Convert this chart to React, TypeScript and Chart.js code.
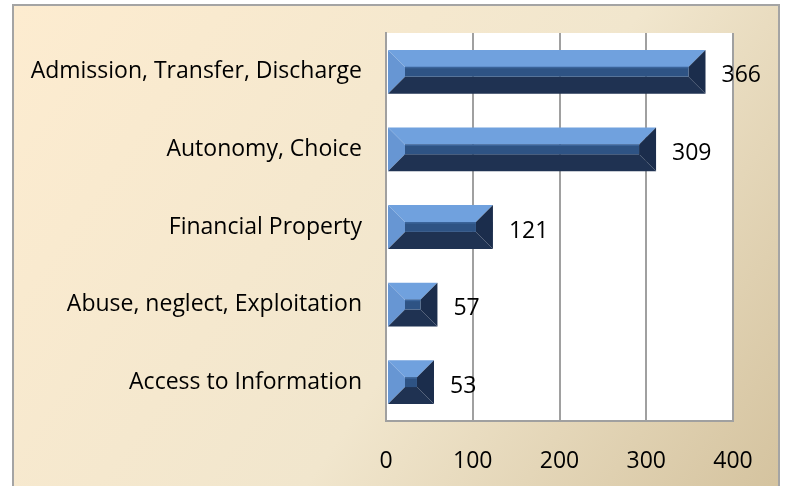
import React, { useEffect, useRef } from "react";
import { Chart, registerables } from "chart.js";

Chart.register(...registerables);

const categories = [
  "Admission, Transfer, Discharge",
  "Autonomy, Choice",
  "Financial Property",
  "Abuse, neglect, Exploitation",
  "Access to Information",
];
const values = [366, 309, 121, 57, 53];
const xMin = 0;
const xMax = 400;
const xStep = 100;

const FONT = "'Open Sans', 'Noto Sans', sans-serif";

const backgroundPlugin = {
  id: "bgPlugin",
  beforeDraw(chart: any) {
    const { ctx, width, height, chartArea } = chart;
    ctx.save();
    ctx.fillStyle = "#ffffff";
    ctx.fillRect(0, 0, width, height);
    const g = ctx.createLinearGradient(13, 5, 779, height + 60);
    g.addColorStop(0, "#fdecd0");
    g.addColorStop(0.55, "#f1e6cd");
    g.addColorStop(1, "#d2c09b");
    ctx.fillStyle = g;
    ctx.fillRect(13, 5, 766, height);
    ctx.strokeStyle = "#a4a4a4";
    ctx.lineWidth = 2;
    ctx.strokeRect(13, 5, 766, height + 10);
    ctx.fillStyle = "#ffffff";
    ctx.fillRect(chartArea.left, chartArea.top, chartArea.right - chartArea.left, chartArea.bottom - chartArea.top);
    ctx.restore();
  },
};

const bevelPlugin = {
  id: "bevelPlugin",
  afterDatasetsDraw(chart: any) {
    const ctx = chart.ctx;
    const meta = chart.getDatasetMeta(0);
    ctx.save();
    meta.data.forEach((bar: any, i: number) => {
      const p = bar.getProps(["x", "y", "base", "height"], true);
      const L = Math.min(p.base, p.x) + 1;
      const R = Math.max(p.base, p.x) + 2;
      const T = p.y - p.height / 2;
      const B = p.y + p.height / 2;
      const d = Math.min(17, (R - L) / 2 - 2, p.height / 2 - 4);
      const poly = (pts: number[][], color: string) => {
        ctx.beginPath();
        ctx.moveTo(pts[0][0], pts[0][1]);
        for (let k = 1; k < pts.length; k++) ctx.lineTo(pts[k][0], pts[k][1]);
        ctx.closePath();
        ctx.fillStyle = color;
        ctx.fill();
      };
      poly([[L, T], [R, T], [R - d, T + d], [L + d, T + d]], "#70a1de");
      poly([[L, T], [L + d, T + d], [L + d, B - d], [L, B]], "#6796d3");
      poly([[R, T], [R, B], [R - d, B - d], [R - d, T + d]], "#1b2d4c");
      poly([[L, B], [L + d, B - d], [R - d, B - d], [R, B]], "#1f3252");
      ctx.fillStyle = "#2e5384";
      ctx.fillRect(L + d, T + d, R - L - 2 * d, B - T - 2 * d);
      ctx.fillStyle = "#3b649a";
      ctx.fillRect(L + d, T + d, R - L - 2 * d, 1.5);
      // value label
      ctx.fillStyle = "#000000";
      ctx.font = `23px ${FONT}`;
      ctx.textAlign = "left";
      ctx.textBaseline = "middle";
      ctx.fillText(String(values[i]), R + 16, p.y + 4);
    });
    ctx.restore();
  },
};

export default function App() {
  const ref = useRef<HTMLCanvasElement | null>(null);
  useEffect(() => {
    if (!ref.current) return;
    const chart = new Chart(ref.current, {
      type: "bar",
      data: {
        labels: categories,
        datasets: [
          {
            data: values,
            backgroundColor: "rgba(0,0,0,0)",
            borderWidth: 0,
            categoryPercentage: 1,
            barPercentage: 0.565,
          },
        ],
      },
      options: {
        indexAxis: "y",
        animation: false,
        responsive: false,
        maintainAspectRatio: false,
        layout: { padding: { top: 33, right: 54, left: 0, bottom: 0 } },
        plugins: {
          legend: { display: false },
          tooltip: { enabled: false },
        },
        scales: {
          x: {
            min: xMin,
            max: xMax,
            ticks: {
              stepSize: xStep,
              padding: 27,
              color: "#000000",
              font: { family: FONT, size: 23 },
            },
            grid: { color: "#a0a0a0", lineWidth: 2, drawTicks: false },
            border: { display: true, color: "#a0a0a0", width: 2 },
            afterFit(scale: any) {
              scale.height = 65;
              scale.paddingLeft = 0;
              scale.paddingRight = 0;
            },
          },
          y: {
            ticks: {
              padding: 24,
              color: "#000000",
              font: { family: FONT, size: 23 },
            },
            grid: { display: false, drawTicks: false },
            border: { display: true, color: "#a0a0a0", width: 2 },
            afterFit(scale: any) {
              scale.width = 386;
              scale.paddingTop = 0;
              scale.paddingBottom = 0;
            },
          },
        },
      },
      plugins: [backgroundPlugin, bevelPlugin],
    });
    return () => chart.destroy();
  }, []);
  return (
    <div style={{ position: "absolute", left: 0, top: 0, width: 787, height: 486 }}>
      <canvas ref={ref} width={787} height={486} style={{ display: "block" }} />
    </div>
  );
}
